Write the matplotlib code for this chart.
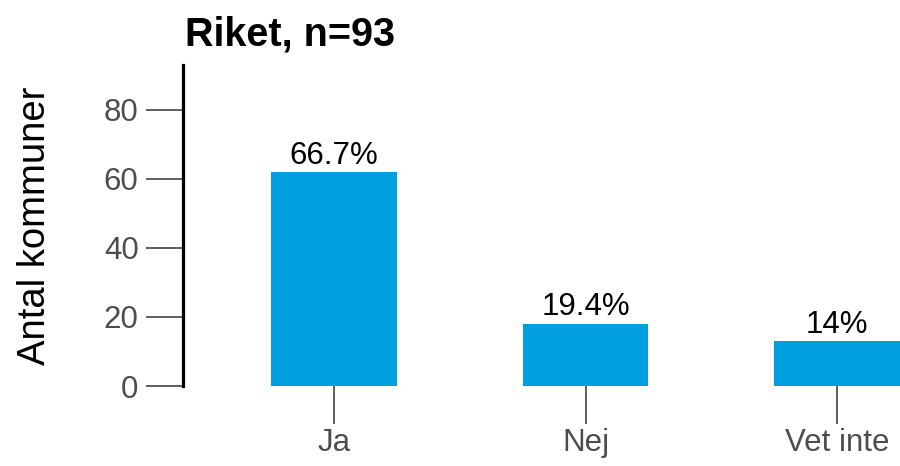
import matplotlib
matplotlib.use("Agg")
import matplotlib.pyplot as plt

categories = ["Ja", "Nej", "Vet inte"]
counts = [62, 18, 13]
pct_labels = ["66.7%", "19.4%", "14%"]
title = "Riket, n=93"
ylabel = "Antal kommuner"
yticks = [0, 20, 40, 60, 80]

plt.rcParams['font.family'] = ['Liberation Sans', 'DejaVu Sans']

fig = plt.figure(figsize=(9, 4.66), dpi=100)
ax = fig.add_axes([183/900, 1 - 386/466, 1 - 183/900, (386 - 65)/466])

x = list(range(len(categories)))
ax.bar(x, counts, width=0.5, color="#009FE0")
for xi, c, lab in zip(x, counts, pct_labels):
    ax.annotate(lab, (xi, c), xytext=(0, 1), textcoords="offset points",
                ha="center", va="bottom", fontsize=22.5, color="black")

ax.set_xlim(-0.6, 2.25)
ax.set_ylim(0, 93)
ax.set_xticks(x)
ax.set_xticklabels(categories)
ax.set_yticks(yticks)

for s in ["top", "right", "bottom"]:
    ax.spines[s].set_visible(False)
ax.spines["left"].set_linewidth(2.3)
ax.spines["left"].set_color("black")

ax.tick_params(axis="y", length=27, width=1.1, color="#333333", labelsize=22.5,
               labelcolor="#4D4D4D", pad=5)
ax.tick_params(axis="x", length=27, width=1.1, color="#333333", labelsize=22.5,
               labelcolor="#4D4D4D", pad=3)

ax.set_ylabel(ylabel, fontsize=27.5, color="black")
ax.yaxis.set_label_coords(-130/717, 0.5)
ax.set_title(title, loc="left", fontsize=28.5, fontweight="bold", pad=14, x=0.003)

fig.savefig("out.png", dpi=100)
